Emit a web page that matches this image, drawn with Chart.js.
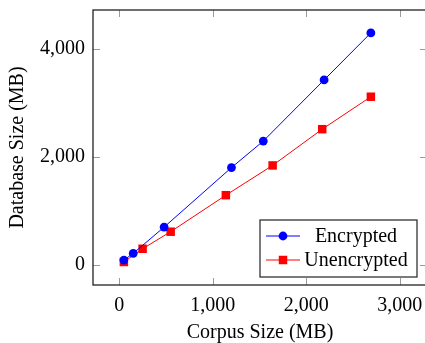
<!DOCTYPE html>
<html>
<head>
<meta charset="utf-8">
<script src="https://cdn.jsdelivr.net/npm/chart.js@4.4.1/dist/chart.umd.min.js"></script>
<style>
html,body{margin:0;padding:0;background:#fff;overflow:hidden;}
#wrap{width:427px;height:343px;position:relative;}
</style>
</head>
<body>
<div id="wrap"><canvas id="chart"></canvas></div>
<script>
// values
const corpusEnc   = [50, 150, 480, 1200, 1540, 2190, 2690];
const sizeEnc     = [90, 215, 700, 1800, 2290, 3420, 4290];
const corpusUnenc = [50, 250, 550, 1140, 1640, 2170, 2690];
const sizeUnenc   = [55, 300, 615, 1290, 1840, 2510, 3110];
const seriesNames = ['Encrypted', 'Unencrypted'];
const xTicks = [0, 1000, 2000, 3000];
const yTicks = [0, 2000, 4000];

const FONT = "'Liberation Serif', 'Times New Roman', serif";
const FS = 20;
const fmt = v => v.toLocaleString('en-US');

// frame + inward ticks on all four sides (pgfplots look)
const framePlugin = {
  id: 'frame',
  beforeDatasetsDraw(chart){
    const {ctx, chartArea:a, scales:{x, y}} = chart;
    ctx.save();
    ctx.strokeStyle = '#9a9a9a';
    ctx.lineWidth = 1;
    ctx.beginPath();
    xTicks.forEach(v => {
      const px = Math.round(x.getPixelForValue(v)) + 0.5;
      ctx.moveTo(px, a.bottom); ctx.lineTo(px, a.bottom - 7);
      ctx.moveTo(px, a.top);    ctx.lineTo(px, a.top + 7);
    });
    yTicks.forEach(v => {
      const py = Math.round(y.getPixelForValue(v)) + 0.5;
      ctx.moveTo(a.left, py);  ctx.lineTo(a.left + 7, py);
      ctx.moveTo(a.right, py); ctx.lineTo(a.right - 7, py);
    });
    ctx.stroke();
    ctx.strokeStyle = '#222';
    ctx.lineWidth = 1.3;
    ctx.strokeRect(a.left, a.top, a.right - a.left, a.bottom - a.top);
    ctx.restore();
  }
};

// legend box inside the plot, bottom right
const legendPlugin = {
  id: 'boxLegend',
  afterDraw(chart){
    const {ctx, chartArea:a} = chart;
    const w = 157, h = 57;
    const bx = a.right - 10 - w, by = a.bottom - 8 - h;
    ctx.save();
    ctx.fillStyle = '#fff';
    ctx.fillRect(bx, by, w, h);
    ctx.strokeStyle = '#222';
    ctx.lineWidth = 1.2;
    ctx.strokeRect(bx, by, w, h);
    chart.data.datasets.forEach((ds, i) => {
      const ry = by + 16 + i * 24;
      ctx.strokeStyle = ds.borderColor;
      ctx.lineWidth = 1;
      ctx.beginPath();
      ctx.moveTo(bx + 6, ry); ctx.lineTo(bx + 40, ry);
      ctx.stroke();
      ctx.fillStyle = ds.backgroundColor;
      Chart.helpers.drawPoint(ctx, {pointStyle: ds.pointStyle, radius: ds.pointRadius, borderWidth: 0}, bx + 23, ry);
      ctx.fillStyle = '#000';
      ctx.font = FS + 'px ' + FONT;
      ctx.textAlign = 'center';
      ctx.textBaseline = 'middle';
      ctx.fillText(ds.label, bx + 96, ry + 1);
    });
    ctx.restore();
  }
};

// keep chart area fixed: no extra room for overhanging tick labels
const noOverhang = s => { s.paddingLeft = 0; s.paddingRight = 0; s.paddingTop = 0; s.paddingBottom = 0; };

const toPts = (xs, ys) => xs.map((v, i) => ({x: v, y: ys[i]}));

new Chart(document.getElementById('chart'), {
  type: 'scatter',
  data: {
    datasets: [
      { label: seriesNames[0], data: toPts(corpusEnc, sizeEnc), showLine: true,
        borderColor: '#0000ff', backgroundColor: '#0000ff', borderWidth: 1,
        pointStyle: 'circle', pointRadius: 4.4, pointBorderWidth: 0, pointHoverRadius: 4.4 },
      { label: seriesNames[1], data: toPts(corpusUnenc, sizeUnenc), showLine: true,
        borderColor: '#ff0000', backgroundColor: '#ff0000', borderWidth: 1,
        pointStyle: 'rect', pointRadius: 6, pointBorderWidth: 0, pointHoverRadius: 6 }
    ]
  },
  options: {
    responsive: true,
    maintainAspectRatio: false,
    animation: false,
    events: [],
    layout: { autoPadding: false, padding: { top: 10, right: 0, left: 0, bottom: 0 } },
    plugins: { legend: { display: false }, tooltip: { enabled: false } },
    scales: {
      x: {
        type: 'linear', min: -280, max: 3290,
        afterBuildTicks: s => { s.ticks = xTicks.map(v => ({value: v})); },
        afterFit: s => { s.height = 58; noOverhang(s); },
        grid: { display: false, drawTicks: false },
        border: { display: false },
        ticks: { color: '#000', padding: 9, maxRotation: 0, font: { family: FONT, size: FS }, callback: v => fmt(v) },
        title: { display: true, text: 'Corpus Size (MB)', color: '#000', padding: {top: 0, bottom: -2}, font: { family: FONT, size: FS } }
      },
      y: {
        type: 'linear', min: -370, max: 4713,
        afterBuildTicks: s => { s.ticks = yTicks.map(v => ({value: v})); },
        afterFit: s => { s.width = 93; noOverhang(s); },
        grid: { display: false, drawTicks: false },
        border: { display: false },
        ticks: { color: '#000', padding: 8, font: { family: FONT, size: FS }, callback: v => fmt(v) },
        title: { display: true, text: 'Database Size (MB)', color: '#000', padding: 6, font: { family: FONT, size: FS } }
      }
    }
  },
  plugins: [framePlugin, legendPlugin]
});
</script>
</body>
</html>
